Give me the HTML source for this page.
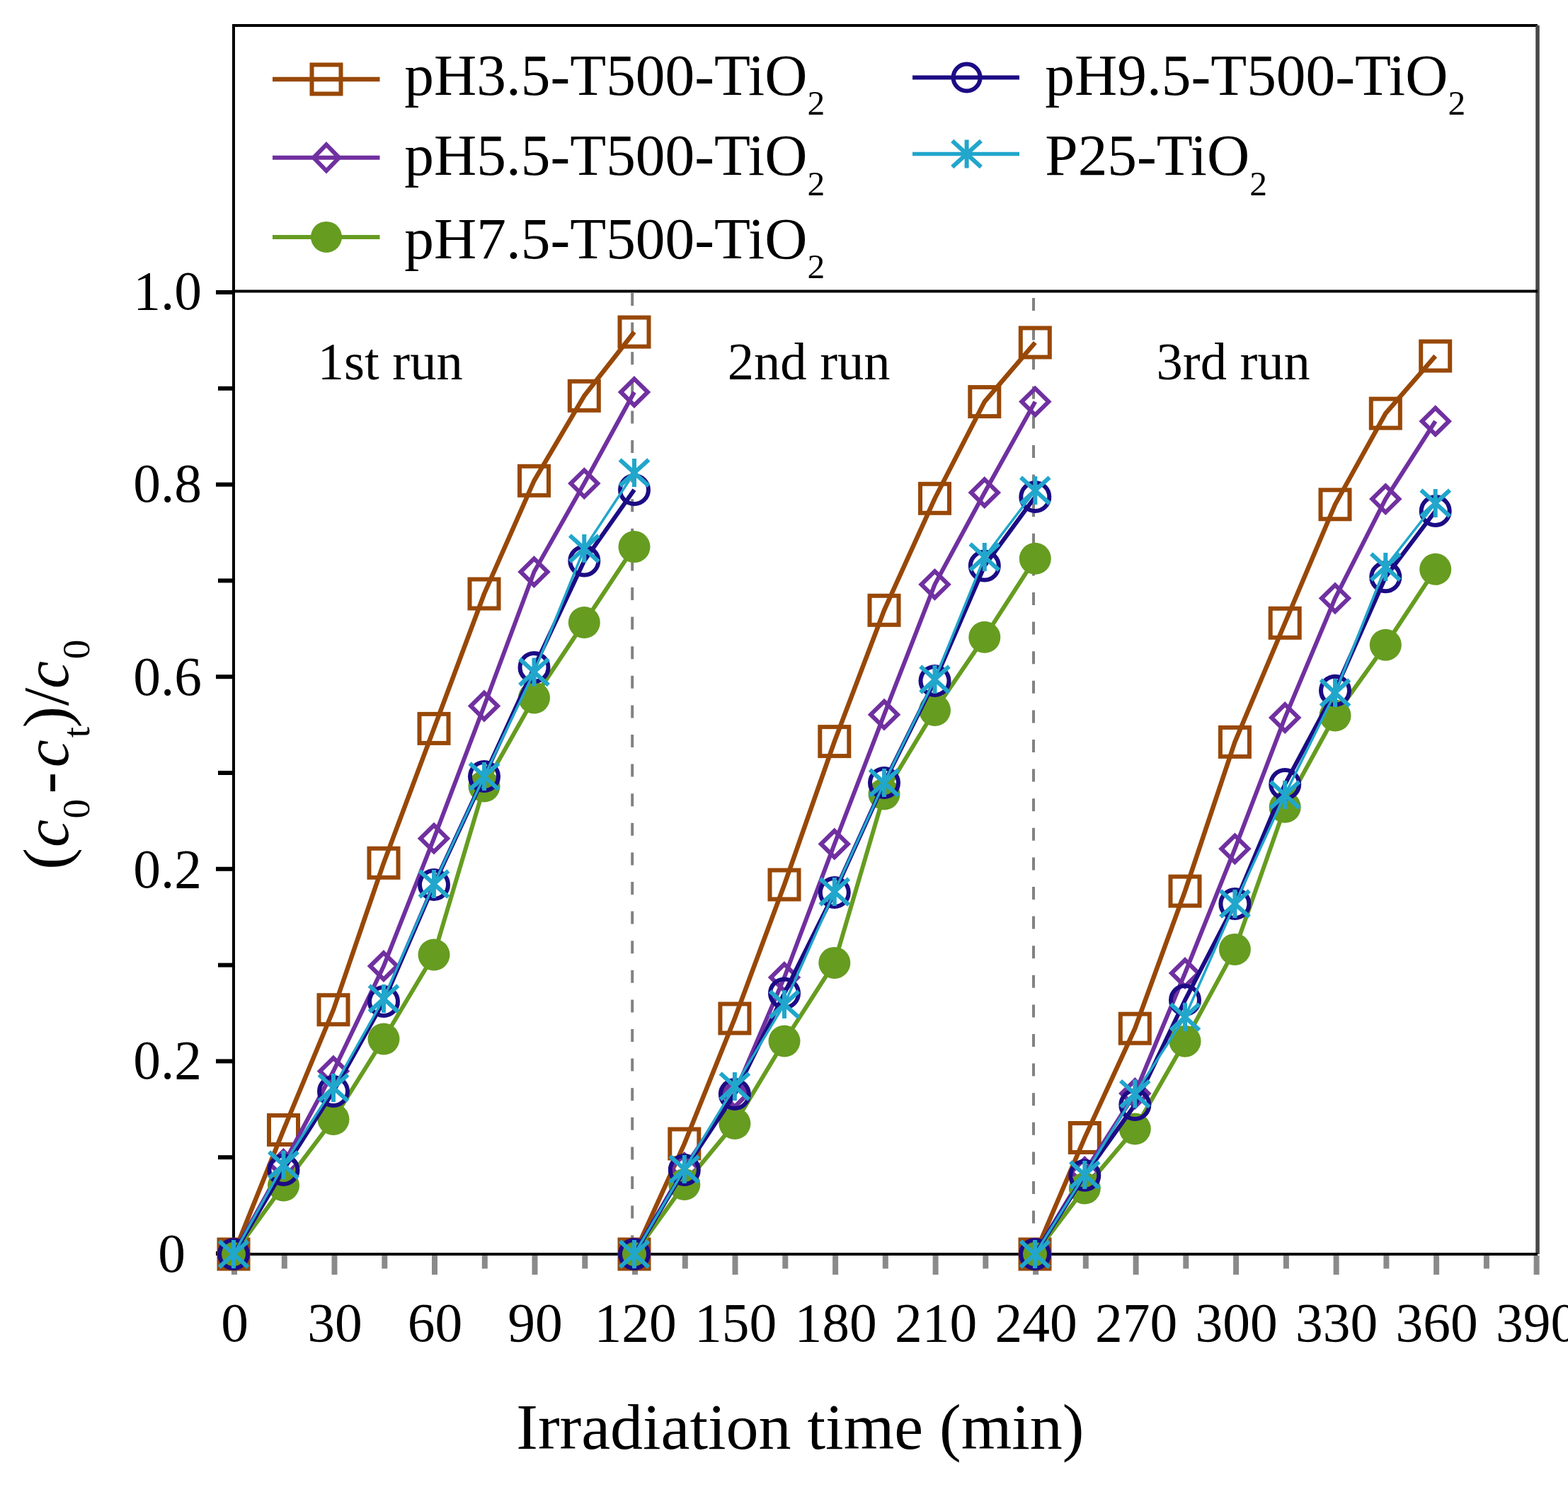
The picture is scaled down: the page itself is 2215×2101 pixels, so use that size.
<!DOCTYPE html><html><head><meta charset="utf-8"><title>Photocatalytic degradation cycles</title><style>
html,body{margin:0;padding:0;background:#fff;overflow:hidden}
svg{display:block}
text{font-family:"Liberation Serif","Times New Roman",serif;fill:#000}
.lsq{fill:none;stroke:#984807;stroke-width:6.5}
.ldia{fill:none;stroke:#7030a0;stroke-width:6}
.lgr{fill:none;stroke:#669c20;stroke-width:6}
.lnv{fill:none;stroke:#1c0c84;stroke-width:6}
.lcy{fill:none;stroke:#21a6cc;stroke-width:3.5}
.lcyl{fill:none;stroke:#21a6cc;stroke-width:5.5}
.msq{fill:none;stroke:#984807;stroke-width:6}
.mdia{fill:none;stroke:#7030a0;stroke-width:6;stroke-linejoin:miter}
.mgr{fill:#669c20;stroke:none}
.mnv{fill:none;stroke:#1c0c84;stroke-width:6}
.mcy{fill:none;stroke:#21a6cc;stroke-width:6}
</style></head><body>
<svg width="2215" height="2101" viewBox="0 0 2215 2101">
<rect width="2215" height="2101" fill="#fff"/>
<path d="M330 36H2172" fill="none" stroke="#000" stroke-width="4"/>
<line x1="2172" y1="36" x2="2172" y2="1772" stroke="#474747" stroke-width="5.5"/>
<line x1="330" y1="34" x2="330" y2="1774" stroke="#000" stroke-width="4"/>
<line x1="328" y1="1772" x2="2172" y2="1772" stroke="#000" stroke-width="4"/>
<line x1="330" y1="411.5" x2="2172" y2="411.5" stroke="#000" stroke-width="4"/>
<line x1="305" y1="1771" x2="330" y2="1771" stroke="#000" stroke-width="6"/>
<line x1="308" y1="1635.2" x2="330" y2="1635.2" stroke="#000" stroke-width="6"/>
<line x1="305" y1="1499.4" x2="330" y2="1499.4" stroke="#000" stroke-width="6"/>
<line x1="308" y1="1363.6" x2="330" y2="1363.6" stroke="#000" stroke-width="6"/>
<line x1="305" y1="1227.8" x2="330" y2="1227.8" stroke="#000" stroke-width="6"/>
<line x1="308" y1="1092" x2="330" y2="1092" stroke="#000" stroke-width="6"/>
<line x1="305" y1="956.2" x2="330" y2="956.2" stroke="#000" stroke-width="6"/>
<line x1="308" y1="820.4" x2="330" y2="820.4" stroke="#000" stroke-width="6"/>
<line x1="305" y1="684.6" x2="330" y2="684.6" stroke="#000" stroke-width="6"/>
<line x1="308" y1="548.8" x2="330" y2="548.8" stroke="#000" stroke-width="6"/>
<line x1="305" y1="413" x2="330" y2="413" stroke="#000" stroke-width="6"/>
<line x1="331" y1="1774" x2="331" y2="1801" stroke="#8a8a8a" stroke-width="8"/>
<line x1="401.8" y1="1774" x2="401.8" y2="1792.5" stroke="#8a8a8a" stroke-width="8"/>
<line x1="472.5" y1="1774" x2="472.5" y2="1801" stroke="#8a8a8a" stroke-width="8"/>
<line x1="543.3" y1="1774" x2="543.3" y2="1792.5" stroke="#8a8a8a" stroke-width="8"/>
<line x1="614" y1="1774" x2="614" y2="1801" stroke="#8a8a8a" stroke-width="8"/>
<line x1="684.8" y1="1774" x2="684.8" y2="1792.5" stroke="#8a8a8a" stroke-width="8"/>
<line x1="755.5" y1="1774" x2="755.5" y2="1801" stroke="#8a8a8a" stroke-width="8"/>
<line x1="826.3" y1="1774" x2="826.3" y2="1792.5" stroke="#8a8a8a" stroke-width="8"/>
<line x1="897" y1="1774" x2="897" y2="1801" stroke="#8a8a8a" stroke-width="8"/>
<line x1="967.8" y1="1774" x2="967.8" y2="1792.5" stroke="#8a8a8a" stroke-width="8"/>
<line x1="1038.5" y1="1774" x2="1038.5" y2="1801" stroke="#8a8a8a" stroke-width="8"/>
<line x1="1109.3" y1="1774" x2="1109.3" y2="1792.5" stroke="#8a8a8a" stroke-width="8"/>
<line x1="1180.1" y1="1774" x2="1180.1" y2="1801" stroke="#8a8a8a" stroke-width="8"/>
<line x1="1250.8" y1="1774" x2="1250.8" y2="1792.5" stroke="#8a8a8a" stroke-width="8"/>
<line x1="1321.6" y1="1774" x2="1321.6" y2="1801" stroke="#8a8a8a" stroke-width="8"/>
<line x1="1392.3" y1="1774" x2="1392.3" y2="1792.5" stroke="#8a8a8a" stroke-width="8"/>
<line x1="1463.1" y1="1774" x2="1463.1" y2="1801" stroke="#8a8a8a" stroke-width="8"/>
<line x1="1533.8" y1="1774" x2="1533.8" y2="1792.5" stroke="#8a8a8a" stroke-width="8"/>
<line x1="1604.6" y1="1774" x2="1604.6" y2="1801" stroke="#8a8a8a" stroke-width="8"/>
<line x1="1675.3" y1="1774" x2="1675.3" y2="1792.5" stroke="#8a8a8a" stroke-width="8"/>
<line x1="1746.1" y1="1774" x2="1746.1" y2="1801" stroke="#8a8a8a" stroke-width="8"/>
<line x1="1816.9" y1="1774" x2="1816.9" y2="1792.5" stroke="#8a8a8a" stroke-width="8"/>
<line x1="1887.6" y1="1774" x2="1887.6" y2="1801" stroke="#8a8a8a" stroke-width="8"/>
<line x1="1958.4" y1="1774" x2="1958.4" y2="1792.5" stroke="#8a8a8a" stroke-width="8"/>
<line x1="2029.1" y1="1774" x2="2029.1" y2="1801" stroke="#8a8a8a" stroke-width="8"/>
<line x1="2099.9" y1="1774" x2="2099.9" y2="1792.5" stroke="#8a8a8a" stroke-width="8"/>
<line x1="2170.6" y1="1774" x2="2170.6" y2="1801" stroke="#8a8a8a" stroke-width="8"/>
<line x1="893.2" y1="414" x2="893.2" y2="1770" stroke="#828282" stroke-width="4" stroke-dasharray="18 23.6" stroke-dashoffset="0"/>
<line x1="1460" y1="414" x2="1460" y2="1770" stroke="#828282" stroke-width="4" stroke-dasharray="18 23.6" stroke-dashoffset="34.6"/>
<polyline points="330,1772 400.5,1596.5 471,1426.7 542,1219.3 613,1029.4 684,839 754.5,679.3 825.3,559.3 896,469.1" class="lsq"/>
<polyline points="896,1772 966.8,1616 1037.9,1439 1108,1250 1178.8,1047.6 1249,862.3 1320.5,704.3 1390.8,567.6 1462.3,484" class="lsq"/>
<polyline points="1462,1772 1532.3,1607.5 1603.3,1453.2 1674,1259.1 1744.4,1048.4 1815.2,880.3 1886,712.8 1957.3,584.1 2027.7,503" class="lsq"/>
<rect x="309.5" y="1751.5" width="41.0" height="41.0" class="msq"/>
<rect x="380" y="1576" width="41.0" height="41.0" class="msq"/>
<rect x="450.5" y="1406.2" width="41.0" height="41.0" class="msq"/>
<rect x="521.5" y="1198.8" width="41.0" height="41.0" class="msq"/>
<rect x="592.5" y="1008.9" width="41.0" height="41.0" class="msq"/>
<rect x="663.5" y="818.5" width="41.0" height="41.0" class="msq"/>
<rect x="734" y="658.8" width="41.0" height="41.0" class="msq"/>
<rect x="804.8" y="538.8" width="41.0" height="41.0" class="msq"/>
<rect x="875.5" y="448.6" width="41.0" height="41.0" class="msq"/>
<rect x="875.5" y="1751.5" width="41.0" height="41.0" class="msq"/>
<rect x="946.3" y="1595.5" width="41.0" height="41.0" class="msq"/>
<rect x="1017.4" y="1418.5" width="41.0" height="41.0" class="msq"/>
<rect x="1087.5" y="1229.5" width="41.0" height="41.0" class="msq"/>
<rect x="1158.3" y="1027.1" width="41.0" height="41.0" class="msq"/>
<rect x="1228.5" y="841.8" width="41.0" height="41.0" class="msq"/>
<rect x="1300" y="683.8" width="41.0" height="41.0" class="msq"/>
<rect x="1370.3" y="547.1" width="41.0" height="41.0" class="msq"/>
<rect x="1441.8" y="463.5" width="41.0" height="41.0" class="msq"/>
<rect x="1441.5" y="1751.5" width="41.0" height="41.0" class="msq"/>
<rect x="1511.8" y="1587" width="41.0" height="41.0" class="msq"/>
<rect x="1582.8" y="1432.7" width="41.0" height="41.0" class="msq"/>
<rect x="1653.5" y="1238.6" width="41.0" height="41.0" class="msq"/>
<rect x="1723.9" y="1027.9" width="41.0" height="41.0" class="msq"/>
<rect x="1794.7" y="859.8" width="41.0" height="41.0" class="msq"/>
<rect x="1865.5" y="692.3" width="41.0" height="41.0" class="msq"/>
<rect x="1936.8" y="563.6" width="41.0" height="41.0" class="msq"/>
<rect x="2007.2" y="482.5" width="41.0" height="41.0" class="msq"/>
<polyline points="330,1772 400.5,1645 471,1513.5 542,1365 613,1184.7 684,997.5 754.5,808 825.3,683.1 896,554" class="ldia"/>
<polyline points="896,1772 966.8,1650 1037.9,1545 1108,1381 1178.8,1192.5 1249,1009.7 1320.5,825.8 1390.8,696 1462.3,567.6" class="ldia"/>
<polyline points="1462,1772 1532.3,1656 1603.3,1545 1674,1375 1744.4,1199.3 1815.2,1014 1886,845.3 1957.3,705.1 2027.7,595.2" class="ldia"/>
<path d="M330 1753.3L349 1772L330 1790.7L311 1772Z" class="mdia"/>
<path d="M400.5 1626.3L419.5 1645L400.5 1663.7L381.5 1645Z" class="mdia"/>
<path d="M471 1494.8L490 1513.5L471 1532.2L452 1513.5Z" class="mdia"/>
<path d="M542 1346.3L561 1365L542 1383.7L523 1365Z" class="mdia"/>
<path d="M613 1166L632 1184.7L613 1203.4L594 1184.7Z" class="mdia"/>
<path d="M684 978.8L703 997.5L684 1016.2L665 997.5Z" class="mdia"/>
<path d="M754.5 789.3L773.5 808L754.5 826.7L735.5 808Z" class="mdia"/>
<path d="M825.3 664.4L844.3 683.1L825.3 701.8L806.3 683.1Z" class="mdia"/>
<path d="M896 535.3L915 554L896 572.7L877 554Z" class="mdia"/>
<path d="M896 1753.3L915 1772L896 1790.7L877 1772Z" class="mdia"/>
<path d="M966.8 1631.3L985.8 1650L966.8 1668.7L947.8 1650Z" class="mdia"/>
<path d="M1037.9 1526.3L1056.9 1545L1037.9 1563.7L1018.9 1545Z" class="mdia"/>
<path d="M1108 1362.3L1127 1381L1108 1399.7L1089 1381Z" class="mdia"/>
<path d="M1178.8 1173.8L1197.8 1192.5L1178.8 1211.2L1159.8 1192.5Z" class="mdia"/>
<path d="M1249 991L1268 1009.7L1249 1028.4L1230 1009.7Z" class="mdia"/>
<path d="M1320.5 807.1L1339.5 825.8L1320.5 844.5L1301.5 825.8Z" class="mdia"/>
<path d="M1390.8 677.3L1409.8 696L1390.8 714.7L1371.8 696Z" class="mdia"/>
<path d="M1462.3 548.9L1481.3 567.6L1462.3 586.3L1443.3 567.6Z" class="mdia"/>
<path d="M1462 1753.3L1481 1772L1462 1790.7L1443 1772Z" class="mdia"/>
<path d="M1532.3 1637.3L1551.3 1656L1532.3 1674.7L1513.3 1656Z" class="mdia"/>
<path d="M1603.3 1526.3L1622.3 1545L1603.3 1563.7L1584.3 1545Z" class="mdia"/>
<path d="M1674 1356.3L1693 1375L1674 1393.7L1655 1375Z" class="mdia"/>
<path d="M1744.4 1180.6L1763.4 1199.3L1744.4 1218L1725.4 1199.3Z" class="mdia"/>
<path d="M1815.2 995.3L1834.2 1014L1815.2 1032.7L1796.2 1014Z" class="mdia"/>
<path d="M1886 826.6L1905 845.3L1886 864L1867 845.3Z" class="mdia"/>
<path d="M1957.3 686.4L1976.3 705.1L1957.3 723.8L1938.3 705.1Z" class="mdia"/>
<path d="M2027.7 576.5L2046.7 595.2L2027.7 613.9L2008.7 595.2Z" class="mdia"/>
<polyline points="330,1772 400.5,1675 471,1581.5 542,1468 613,1349 684,1111 754.5,986 825.3,879.5 896,772.6" class="lgr"/>
<polyline points="896,1772 966.8,1673.5 1037.9,1587.5 1108,1471 1178.8,1360.4 1249,1122 1320.5,1003.5 1390.8,900.3 1462.3,789.3" class="lgr"/>
<polyline points="1462,1772 1532.3,1679 1603.3,1595 1674,1471.2 1744.4,1341.4 1815.2,1140.3 1886,1011 1957.3,911.2 2027.7,804.3" class="lgr"/>
<circle cx="330" cy="1772" r="22.5" class="mgr"/>
<circle cx="400.5" cy="1675" r="22.5" class="mgr"/>
<circle cx="471" cy="1581.5" r="22.5" class="mgr"/>
<circle cx="542" cy="1468" r="22.5" class="mgr"/>
<circle cx="613" cy="1349" r="22.5" class="mgr"/>
<circle cx="684" cy="1111" r="22.5" class="mgr"/>
<circle cx="754.5" cy="986" r="22.5" class="mgr"/>
<circle cx="825.3" cy="879.5" r="22.5" class="mgr"/>
<circle cx="896" cy="772.6" r="22.5" class="mgr"/>
<circle cx="896" cy="1772" r="22.5" class="mgr"/>
<circle cx="966.8" cy="1673.5" r="22.5" class="mgr"/>
<circle cx="1037.9" cy="1587.5" r="22.5" class="mgr"/>
<circle cx="1108" cy="1471" r="22.5" class="mgr"/>
<circle cx="1178.8" cy="1360.4" r="22.5" class="mgr"/>
<circle cx="1249" cy="1122" r="22.5" class="mgr"/>
<circle cx="1320.5" cy="1003.5" r="22.5" class="mgr"/>
<circle cx="1390.8" cy="900.3" r="22.5" class="mgr"/>
<circle cx="1462.3" cy="789.3" r="22.5" class="mgr"/>
<circle cx="1462" cy="1772" r="22.5" class="mgr"/>
<circle cx="1532.3" cy="1679" r="22.5" class="mgr"/>
<circle cx="1603.3" cy="1595" r="22.5" class="mgr"/>
<circle cx="1674" cy="1471.2" r="22.5" class="mgr"/>
<circle cx="1744.4" cy="1341.4" r="22.5" class="mgr"/>
<circle cx="1815.2" cy="1140.3" r="22.5" class="mgr"/>
<circle cx="1886" cy="1011" r="22.5" class="mgr"/>
<circle cx="1957.3" cy="911.2" r="22.5" class="mgr"/>
<circle cx="2027.7" cy="804.3" r="22.5" class="mgr"/>
<polyline points="330,1772 400.5,1653 471,1542 542,1415 613,1250 684,1097 754.5,943 825.3,792.4 896,692" class="lnv"/>
<polyline points="896,1772 966.8,1653 1037.9,1546 1108,1403.5 1178.8,1261 1249,1106 1320.5,962 1390.8,799.5 1462.3,702" class="lnv"/>
<polyline points="1462,1772 1532.3,1660.7 1603.3,1561 1674,1413 1744.4,1277 1815.2,1108 1886,975.7 1957.3,815.2 2027.7,722" class="lnv"/>
<circle cx="330" cy="1772" r="20" class="mnv"/>
<circle cx="400.5" cy="1653" r="20" class="mnv"/>
<circle cx="471" cy="1542" r="20" class="mnv"/>
<circle cx="542" cy="1415" r="20" class="mnv"/>
<circle cx="613" cy="1250" r="20" class="mnv"/>
<circle cx="684" cy="1097" r="20" class="mnv"/>
<circle cx="754.5" cy="943" r="20" class="mnv"/>
<circle cx="825.3" cy="792.4" r="20" class="mnv"/>
<circle cx="896" cy="692" r="20" class="mnv"/>
<circle cx="896" cy="1772" r="20" class="mnv"/>
<circle cx="966.8" cy="1653" r="20" class="mnv"/>
<circle cx="1037.9" cy="1546" r="20" class="mnv"/>
<circle cx="1108" cy="1403.5" r="20" class="mnv"/>
<circle cx="1178.8" cy="1261" r="20" class="mnv"/>
<circle cx="1249" cy="1106" r="20" class="mnv"/>
<circle cx="1320.5" cy="962" r="20" class="mnv"/>
<circle cx="1390.8" cy="799.5" r="20" class="mnv"/>
<circle cx="1462.3" cy="702" r="20" class="mnv"/>
<circle cx="1462" cy="1772" r="20" class="mnv"/>
<circle cx="1532.3" cy="1660.7" r="20" class="mnv"/>
<circle cx="1603.3" cy="1561" r="20" class="mnv"/>
<circle cx="1674" cy="1413" r="20" class="mnv"/>
<circle cx="1744.4" cy="1277" r="20" class="mnv"/>
<circle cx="1815.2" cy="1108" r="20" class="mnv"/>
<circle cx="1886" cy="975.7" r="20" class="mnv"/>
<circle cx="1957.3" cy="815.2" r="20" class="mnv"/>
<circle cx="2027.7" cy="722" r="20" class="mnv"/>
<polyline points="330,1772 400.5,1646 471,1537 542,1411 613,1249 684,1097 754.5,949.5 825.3,775 896,668" class="lcy"/>
<polyline points="896,1772 966.8,1652 1037.9,1535 1108,1419 1178.8,1260 1249,1106 1320.5,960 1390.8,787 1462.3,693" class="lcy"/>
<polyline points="1462,1772 1532.3,1660 1603.3,1545.6 1674,1437 1744.4,1277 1815.2,1123 1886,979 1957.3,801 2027.7,711" class="lcy"/>
<path d="M309.6 1753.5L350.4 1790.5M309.6 1790.5L350.4 1753.5M330 1752L330 1792" class="mcy"/>
<path d="M380.1 1627.5L420.9 1664.5M380.1 1664.5L420.9 1627.5M400.5 1626L400.5 1666" class="mcy"/>
<path d="M450.6 1518.5L491.4 1555.5M450.6 1555.5L491.4 1518.5M471 1517L471 1557" class="mcy"/>
<path d="M521.6 1392.5L562.4 1429.5M521.6 1429.5L562.4 1392.5M542 1391L542 1431" class="mcy"/>
<path d="M592.6 1230.5L633.4 1267.5M592.6 1267.5L633.4 1230.5M613 1229L613 1269" class="mcy"/>
<path d="M663.6 1078.5L704.4 1115.5M663.6 1115.5L704.4 1078.5M684 1077L684 1117" class="mcy"/>
<path d="M734.1 931L774.9 968M734.1 968L774.9 931M754.5 929.5L754.5 969.5" class="mcy"/>
<path d="M804.9 756.5L845.6 793.5M804.9 793.5L845.6 756.5M825.3 755L825.3 795" class="mcy"/>
<path d="M875.6 649.5L916.4 686.5M875.6 686.5L916.4 649.5M896 648L896 688" class="mcy"/>
<path d="M875.6 1753.5L916.4 1790.5M875.6 1790.5L916.4 1753.5M896 1752L896 1792" class="mcy"/>
<path d="M946.4 1633.5L987.1 1670.5M946.4 1670.5L987.1 1633.5M966.8 1632L966.8 1672" class="mcy"/>
<path d="M1017.6 1516.5L1058.2 1553.5M1017.6 1553.5L1058.2 1516.5M1037.9 1515L1037.9 1555" class="mcy"/>
<path d="M1087.7 1400.5L1128.3 1437.5M1087.7 1437.5L1128.3 1400.5M1108 1399L1108 1439" class="mcy"/>
<path d="M1158.5 1241.5L1199.1 1278.5M1158.5 1278.5L1199.1 1241.5M1178.8 1240L1178.8 1280" class="mcy"/>
<path d="M1228.7 1087.5L1269.3 1124.5M1228.7 1124.5L1269.3 1087.5M1249 1086L1249 1126" class="mcy"/>
<path d="M1300.2 941.5L1340.8 978.5M1300.2 978.5L1340.8 941.5M1320.5 940L1320.5 980" class="mcy"/>
<path d="M1370.5 768.5L1411.1 805.5M1370.5 805.5L1411.1 768.5M1390.8 767L1390.8 807" class="mcy"/>
<path d="M1442 674.5L1482.6 711.5M1442 711.5L1482.6 674.5M1462.3 673L1462.3 713" class="mcy"/>
<path d="M1441.7 1753.5L1482.3 1790.5M1441.7 1790.5L1482.3 1753.5M1462 1752L1462 1792" class="mcy"/>
<path d="M1512 1641.5L1552.6 1678.5M1512 1678.5L1552.6 1641.5M1532.3 1640L1532.3 1680" class="mcy"/>
<path d="M1583 1527.1L1623.6 1564.1M1583 1564.1L1623.6 1527.1M1603.3 1525.6L1603.3 1565.6" class="mcy"/>
<path d="M1653.7 1418.5L1694.3 1455.5M1653.7 1455.5L1694.3 1418.5M1674 1417L1674 1457" class="mcy"/>
<path d="M1724.1 1258.5L1764.8 1295.5M1724.1 1295.5L1764.8 1258.5M1744.4 1257L1744.4 1297" class="mcy"/>
<path d="M1794.9 1104.5L1835.5 1141.5M1794.9 1141.5L1835.5 1104.5M1815.2 1103L1815.2 1143" class="mcy"/>
<path d="M1865.7 960.5L1906.3 997.5M1865.7 997.5L1906.3 960.5M1886 959L1886 999" class="mcy"/>
<path d="M1937 782.5L1977.6 819.5M1937 819.5L1977.6 782.5M1957.3 781L1957.3 821" class="mcy"/>
<path d="M2007.4 692.5L2048.1 729.5M2007.4 729.5L2048.1 692.5M2027.7 691L2027.7 731" class="mcy"/>
<text x="285" y="1524.3" font-size="77.5" text-anchor="end">0.2</text>
<text x="285" y="1253.7" font-size="77.5" text-anchor="end">0.2</text>
<text x="285" y="981.8" font-size="77.5" text-anchor="end">0.6</text>
<text x="285" y="709.4" font-size="77.5" text-anchor="end">0.8</text>
<text x="285" y="437" font-size="77.5" text-anchor="end">1.0</text>
<text x="262" y="1797" font-size="77.5" text-anchor="end">0</text>
<text x="331.5" y="1895" font-size="77.5" text-anchor="middle">0</text>
<text x="473" y="1895" font-size="77.5" text-anchor="middle">30</text>
<text x="614.5" y="1895" font-size="77.5" text-anchor="middle">60</text>
<text x="756" y="1895" font-size="77.5" text-anchor="middle">90</text>
<text x="897.5" y="1895" font-size="77.5" text-anchor="middle">120</text>
<text x="1039" y="1895" font-size="77.5" text-anchor="middle">150</text>
<text x="1180.6" y="1895" font-size="77.5" text-anchor="middle">180</text>
<text x="1322.1" y="1895" font-size="77.5" text-anchor="middle">210</text>
<text x="1463.6" y="1895" font-size="77.5" text-anchor="middle">240</text>
<text x="1605.1" y="1895" font-size="77.5" text-anchor="middle">270</text>
<text x="1746.6" y="1895" font-size="77.5" text-anchor="middle">300</text>
<text x="1888.1" y="1895" font-size="77.5" text-anchor="middle">330</text>
<text x="2029.6" y="1895" font-size="77.5" text-anchor="middle">360</text>
<text x="2171.1" y="1895" font-size="77.5" text-anchor="middle">390</text>
<text x="448.8" y="535.8" font-size="74.5">1st run</text>
<text x="1027.8" y="535.8" font-size="74.5">2nd run</text>
<text x="1633.6" y="535.8" font-size="74.5">3rd run</text>
<text x="729.3" y="2046.5" font-size="92">Irradiation time (min)</text>
<text transform="translate(96,1225) rotate(-90)" font-size="92"><tspan x="-3.7" y="0">(</tspan><tspan x="28.1" y="0" font-style="italic" font-size="88">c</tspan><tspan x="68.6" y="30" font-size="55">0</tspan><tspan x="103.4" y="0">-</tspan><tspan x="140.7" y="0" font-style="italic" font-size="88">c</tspan><tspan x="182.7" y="30" font-size="55">t</tspan><tspan x="196.6" y="0">)</tspan><tspan x="227.8" y="0">/</tspan><tspan x="252" y="0" font-style="italic" font-size="88">c</tspan><tspan x="293.7" y="30" font-size="55">0</tspan></text>
<line x1="385" y1="112" x2="536.5" y2="112" class="lsq"/>
<rect x="440.5" y="91.5" width="41.0" height="41.0" class="msq"/>
<text x="571.3" y="133.6" font-size="83.4">pH3.5-T500-TiO<tspan font-size="49.5" dy="28.4">2</tspan></text>
<line x1="385" y1="222.8" x2="536.5" y2="222.8" class="ldia"/>
<path d="M461 204.3L479 222.8L461 241.3L443 222.8Z" class="mdia"/>
<text x="571.3" y="247.4" font-size="83.4">pH5.5-T500-TiO<tspan font-size="49.5" dy="28.4">2</tspan></text>
<line x1="385" y1="334.9" x2="536.5" y2="334.9" class="lgr"/>
<circle cx="461" cy="334.9" r="22" class="mgr"/>
<text x="571.3" y="364.7" font-size="83.4">pH7.5-T500-TiO<tspan font-size="49.5" dy="28.4">2</tspan></text>
<line x1="1289" y1="109.5" x2="1440" y2="109.5" class="lnv"/>
<circle cx="1365.6" cy="109.5" r="19" class="mnv"/>
<text x="1476.3" y="133.6" font-size="83.4">pH9.5-T500-TiO<tspan font-size="49.5" dy="28.4">2</tspan></text>
<line x1="1289" y1="217.5" x2="1440" y2="217.5" class="lcyl"/>
<path d="M1345.2 199L1385.9 236M1345.2 236L1385.9 199M1365.6 197.5L1365.6 237.5" class="mcy"/>
<text x="1476.3" y="247.4" font-size="83.4">P25-TiO<tspan font-size="49.5" dy="28.4">2</tspan></text>
</svg></body></html>
